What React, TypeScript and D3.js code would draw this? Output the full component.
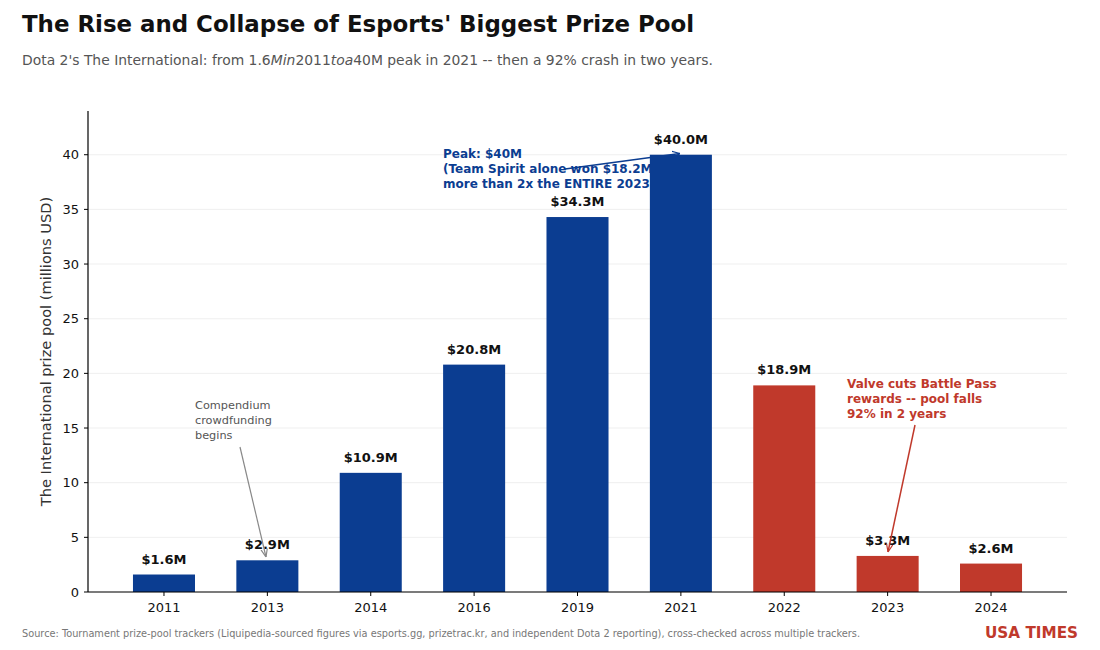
import React from "react";
import * as d3 from "d3";

const years = ["2011", "2013", "2014", "2016", "2019", "2021", "2022", "2023", "2024"];
const pools = [1.6, 2.9, 10.9, 20.8, 34.3, 40.0, 18.9, 3.3, 2.6];
const labels = ["$1.6M", "$2.9M", "$10.9M", "$20.8M", "$34.3M", "$40.0M", "$18.9M", "$3.3M", "$2.6M"];
const yTicks = [0, 5, 10, 15, 20, 25, 30, 35, 40];
const BLUE = "#0b3d91";
const RED = "#c0392b";

const W = 1100, H = 650;
const L = 88, R = 1067, T = 111, B = 592;

export default function App() {
  const x = d3.scaleLinear().domain([-0.735, years.length - 1 + 0.735]).range([L, R]);
  const y = d3.scaleLinear().domain([0, 44]).range([B, T]);
  const bw = x(0.6) - x(0);
  const font = "DejaVu Sans, sans-serif";

  return (
    <div style={{ position: "absolute", left: 0, top: 0 }}>
      <svg width={W} height={H} fontFamily={font} style={{ display: "block", background: "#fff" }}>
        <defs>
          <marker id="ah-blue" viewBox="0 0 10 10" refX="10" refY="5" markerWidth="8" markerHeight="8" orient="auto" markerUnits="userSpaceOnUse">
            <path d="M0,1 L10,5 L0,9" fill="none" stroke={BLUE} strokeWidth="1.5" />
          </marker>
          <marker id="ah-red" viewBox="0 0 10 10" refX="10" refY="5" markerWidth="8" markerHeight="8" orient="auto" markerUnits="userSpaceOnUse">
            <path d="M0,1 L10,5 L0,9" fill="none" stroke={RED} strokeWidth="1.5" />
          </marker>
          <marker id="ah-gray" viewBox="0 0 10 10" refX="10" refY="5" markerWidth="8" markerHeight="8" orient="auto" markerUnits="userSpaceOnUse">
            <path d="M0,1 L10,5 L0,9" fill="none" stroke="#888" strokeWidth="1.5" />
          </marker>
        </defs>

        <text x={22} y={32} fontSize={22.9} fontWeight="bold" fill="#111">
          The Rise and Collapse of Esports' Biggest Prize Pool
        </text>
        <text x={22} y={65} fontSize={13.9} fill="#555">
          Dota 2's The International: from 1.6<tspan fontStyle="italic">Min</tspan>2011<tspan fontStyle="italic">toa</tspan>40M peak in 2021 -- then a 92% crash in two years.
        </text>

        {/* grid */}
        {yTicks.map((t) => (
          <line key={"g" + t} x1={L} x2={R} y1={y(t)} y2={y(t)} stroke="#ebebeb" strokeWidth={0.8} />
        ))}

        {/* annotations text (behind bars) */}
        <g fontSize={12} fontWeight="bold" fill={BLUE}>
          <text x={443} y={158}>Peak: $40M</text>
          <text x={443} y={173}>(Team Spirit alone won $18.2M --</text>
          <text x={443} y={188}>more than 2x the ENTIRE 2023 pool)</text>
        </g>
        <line x1={565} y1={169} x2={680} y2={153.5} stroke={BLUE} strokeWidth={1.5} markerEnd="url(#ah-blue)" />

        {/* bars */}
        {pools.map((v, i) => (
          <rect key={"b" + i} x={x(i) - bw / 2} y={y(v)} width={bw} height={y(0) - y(v)} fill={i >= 6 ? RED : BLUE} />
        ))}

        {/* value labels */}
        {pools.map((v, i) => (
          <text key={"l" + i} x={x(i)} y={y(v) - 11} textAnchor="middle" fontSize={13} fontWeight="bold" fill="#111">
            {labels[i]}
          </text>
        ))}

        {/* compendium annotation */}
        <g fontSize={11.3} fill="#555">
          <text x={195} y={409}>Compendium</text>
          <text x={195} y={424}>crowdfunding</text>
          <text x={195} y={439}>begins</text>
        </g>
        <line x1={240} y1={447} x2={266} y2={557} stroke="#888" strokeWidth={1.2} markerEnd="url(#ah-gray)" />

        {/* red annotation */}
        <g fontSize={12} fontWeight="bold" fill={RED}>
          <text x={847} y={388}>Valve cuts Battle Pass</text>
          <text x={847} y={403}>rewards -- pool falls</text>
          <text x={847} y={418}>92% in 2 years</text>
        </g>
        <line x1={915} y1={425} x2={888} y2={552} stroke={RED} strokeWidth={1.5} markerEnd="url(#ah-red)" />

        {/* axes */}
        <line x1={L} x2={L} y1={T} y2={B} stroke="#000" strokeWidth={1.2} />
        <line x1={L} x2={R} y1={B} y2={B} stroke="#000" strokeWidth={1.2} />
        {yTicks.map((t) => (
          <g key={"yt" + t}>
            <line x1={L - 4} x2={L} y1={y(t)} y2={y(t)} stroke="#000" strokeWidth={1} />
            <text x={L - 9} y={y(t)} dy="0.35em" textAnchor="end" fontSize={13} fill="#111">{t}</text>
          </g>
        ))}
        {years.map((yr, i) => (
          <g key={"xt" + yr}>
            <line x1={x(i)} x2={x(i)} y1={B} y2={B + 4} stroke="#000" strokeWidth={1} />
            <text x={x(i)} y={B + 20} textAnchor="middle" fontSize={13} fill="#111">{yr}</text>
          </g>
        ))}
        <text transform={`translate(51,${(T + B) / 2}) rotate(-90)`} textAnchor="middle" fontSize={14.6} fill="#333">
          The International prize pool (millions USD)
        </text>

        {/* footer */}
        <text x={22} y={637} fontSize={10} fill="#777" textLength={838} lengthAdjust="spacingAndGlyphs">
          Source: Tournament prize-pool trackers (Liquipedia-sourced figures via esports.gg, prizetrac.kr, and independent Dota 2 reporting), cross-checked across multiple trackers.
        </text>
        <text x={985} y={638} fontSize={15} fontWeight="bold" fill={RED} textLength={93} lengthAdjust="spacingAndGlyphs">
          USA TIMES
        </text>
      </svg>
    </div>
  );
}
